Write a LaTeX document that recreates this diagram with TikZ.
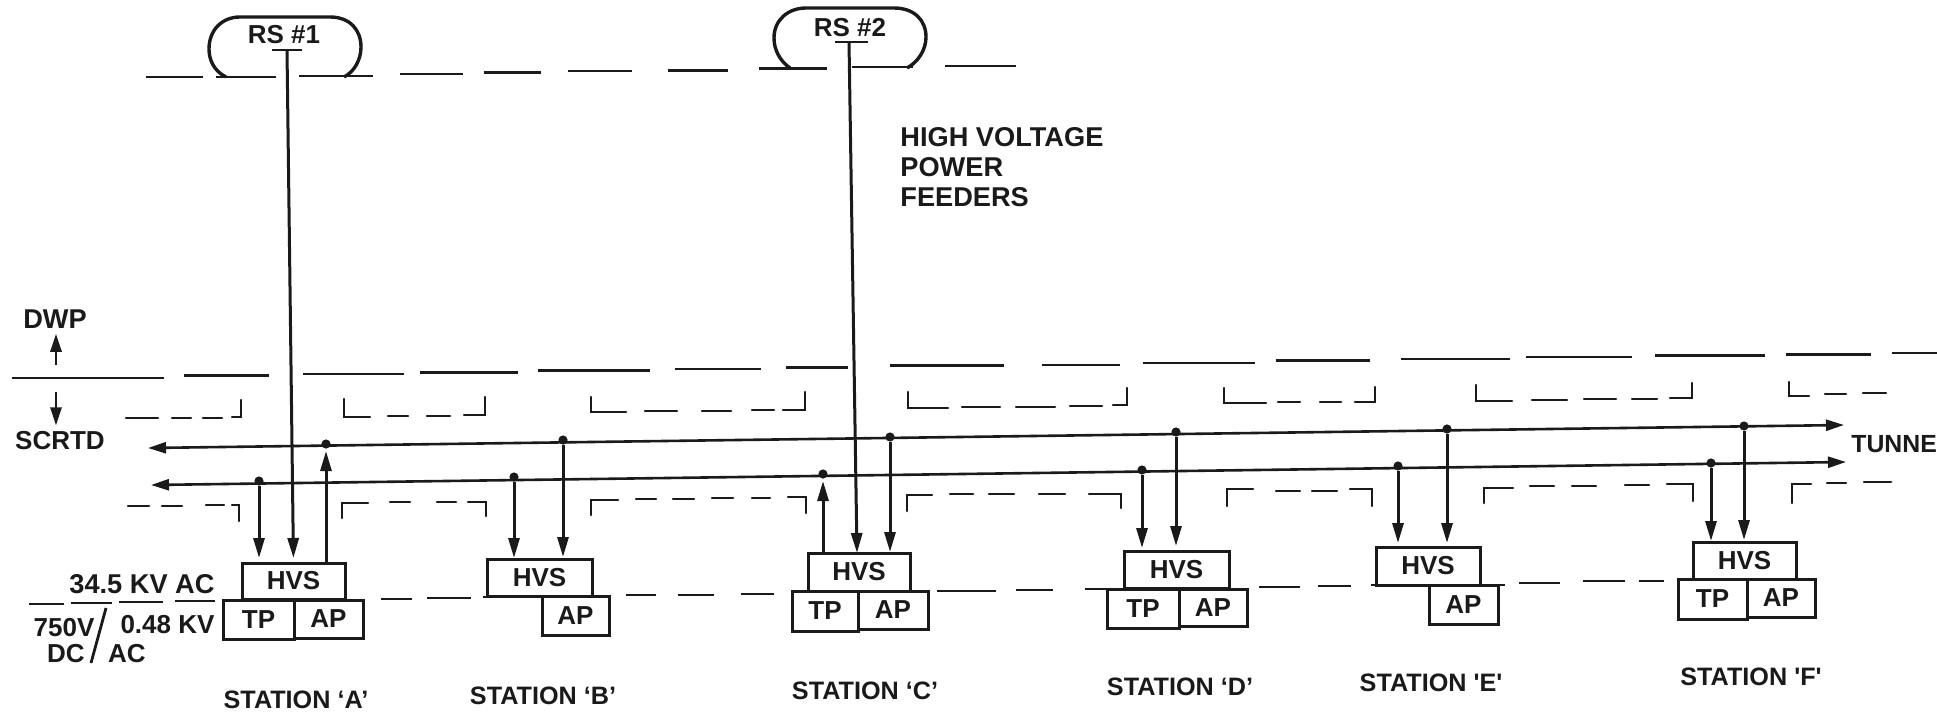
\documentclass[tikz,border=0pt]{standalone}
\usepackage{fontspec}
\setmainfont{Liberation Sans}
\newfontfamily\plainf{Liberation Sans}
\usetikzlibrary{arrows.meta,calc}
\definecolor{ink}{HTML}{1A1A1A}
\tikzset{
  bus/.style={line width=1.4pt,ink},
  dashbit/.style={line width=1.25pt,ink,line cap=round},
  feed/.style={line width=1.5pt,ink,-{Stealth[length=10pt,width=5.5pt,inset=0pt]}},
  tunnel/.style={line width=1.3pt,ink,{Stealth[length=9pt,width=5.5pt,inset=0pt]}-{Stealth[length=9pt,width=5.5pt,inset=0pt]}},
  small arrow/.style={line width=1.4pt,ink,-{Stealth[length=9pt,width=5.5pt,inset=0pt]}},
  boxn/.style={draw=ink,line width=1.5pt,inner sep=0pt,outer sep=0pt,font=\fontsize{13}{13}\bfseries,text=ink},
  dot/.style={circle,fill=ink,inner sep=0pt,minimum size=4.6pt},
  lab/.style={font=\fontsize{13}{15}\bfseries,text=ink,inner sep=0pt},
  stn/.style={font=\fontsize{12.6}{14}\bfseries,text=ink,inner sep=0pt},
  pill/.style={line width=1.7pt,ink}
}
\newcommand{\bx}[6]{%
  \pgfmathsetmacro\bw{(#4-#2)*0.5}%
  \pgfmathsetmacro\bh{(#5-#3)*0.5}%
  \node[boxn,minimum width=\bw pt,minimum height=\bh pt] (#1) at ({(#2+#4)/2},{(#3+#5)/2}) {#6};}
\begin{document}
\begin{tikzpicture}[x=0.5pt,y=-0.5pt]
\useasboundingbox (0,0) rectangle (1937,718);
\clip (0,0) rectangle (1937,718);
% top bus
\foreach \a/\b/\c in {146/203/77,216/276/77,299/373/76,400/463/74,484/541/72.5,568/632/71,668/728/70.5,759/827/68.5,852/913/67,945/1016/66}
  \draw[bus] (\a,\c) -- (\b,\c);
% DWP bus
\foreach \a/\b/\c in {12/164/378,184/269/375.5,303/404/374,420/518/372.5,538/650/370.5,675/761/369,786/848/367.5,890/1004/365.5,1042/1120/365,1143/1255/363,1276/1370/360.5,1401/1510/359,1526/1632/357,1655/1765/355.5,1786/1871/354.5,1892/1937/353}
  \draw[bus] (\a,\c) -- (\b,\c);
% upper structure outline
\draw[dashbit] (232,417) -- (241,417) -- (241,400);
\draw[dashbit] (344,399) -- (344,417) -- (370,417);
\draw[dashbit] (464,415) -- (485,415) -- (485,397);
\draw[dashbit] (591,397) -- (591,412) -- (626,412);
\draw[dashbit] (783,410) -- (805,410) -- (805,392);
\draw[dashbit] (908,392) -- (908,408) -- (948,408);
\draw[dashbit] (1113,405) -- (1127,405) -- (1127,388);
\draw[dashbit] (1224,388) -- (1224,403) -- (1266,403);
\draw[dashbit] (1355,402) -- (1375,402) -- (1375,387);
\draw[dashbit] (1476,385) -- (1476,401) -- (1512,401);
\draw[dashbit] (1670,398) -- (1692,398) -- (1692,383);
\draw[dashbit] (1789,382) -- (1789,396) -- (1809,396);
\foreach \a/\b/\c in {126/158/418,172/191/418,203/222/418,388/408/416,427/450/416,645/677/411,702/731/411,752/774/410,962/1000/407,1016/1055/407,1070/1102/406,1278/1300/402,1320/1341/402,1532/1567/400,1584/1616/399,1632/1657/399,1825/1846/394,1863/1886/393}
  \draw[dashbit] (\a,\c) -- (\b,\c);
% lower structure outline
\draw[dashbit] (232,505) -- (239,505) -- (239,521);
\draw[dashbit] (342,518) -- (342,503) -- (368,503);
\draw[dashbit] (468,502) -- (486,502) -- (486,516);
\draw[dashbit] (591,515) -- (591,500) -- (618,500);
\draw[dashbit] (788,497) -- (806,497) -- (806,513);
\draw[dashbit] (907,511) -- (907,495) -- (932,495);
\draw[dashbit] (1089,494) -- (1121,494) -- (1121,508);
\draw[dashbit] (1227,506) -- (1227,489) -- (1253,489);
\draw[dashbit] (1350,489) -- (1372,489) -- (1372,506);
\draw[dashbit] (1484,503) -- (1484,488) -- (1513,488);
\draw[dashbit] (1667,484) -- (1693,484) -- (1693,501);
\draw[dashbit] (1792,503) -- (1792,484) -- (1811,484);
\foreach \a/\b/\c in {128/149/506,162/182/506,206/224/505,390/410/502,437/456/502,636/656/499,673/694/499,712/733/498,752/770/498,950/973/494,989/1014/494,1039/1065/494,1276/1300/491,1312/1337/491,1530/1554/486,1572/1596/486,1625/1649/485,1827/1846/483,1864/1891/482}
  \draw[dashbit] (\a,\c) -- (\b,\c);
% voltage boundary bus
\foreach \a/\b/\c in {29/64/604,71/112/603,119/163/602,175/215/601,381/412/599,427/471/598,483/490/597,626/656/595,678/714/595,741/774/594,937/996/591,1016/1053/590,1085/1110/589,1259/1300/587,1318/1351/586,1371/1505/585,1519/1560/583,1583/1625/581,1639/1664/581}
  \draw[bus] (\a,\c) -- (\b,\c);
% receiving stations
\draw[pill] (226,77) .. controls (214,71) and (209,60) .. (209,49) .. controls (209,30) and (222,17) .. (240,17) -- (330,17) .. controls (350,17) and (361,30) .. (361,47) .. controls (361,60) and (354,72) .. (344,77);
\draw[pill] (790,68) .. controls (780,61) and (774,50) .. (774,38) .. controls (774,20) and (788,8) .. (806,8) -- (894,8) .. controls (914,8) and (926,20) .. (926,37) .. controls (926,50) and (918,62) .. (907,68);
\node[lab] (rs1) at (284,35) {RS \#1};
\node[lab] (rs2) at (850,28) {RS \#2};
\coordinate (t1l) at (272,50); \coordinate (t1r) at (302,50); \coordinate (t1) at (287,50);
\coordinate (t2l) at (835,42); \coordinate (t2r) at (868,42); \coordinate (t2) at (849,42);
\draw[bus] (t1l) -- (t1r);
\draw[bus] (t2l) -- (t2r);
% boxes
\bx{hvsA}{242}{563}{345}{599}{HVS}
\bx{tpA}{223}{600}{294}{639}{TP}
\bx{apA}{294}{600}{363}{638}{AP}
\bx{hvsB}{487}{559}{592}{596}{HVS}
\bx{apB}{542}{596}{609}{635}{AP}
\bx{hvsC}{808}{553}{910}{591}{HVS}
\bx{tpC}{792}{591}{858}{631}{TP}
\bx{apC}{858}{591}{928}{629}{AP}
\bx{hvsD}{1124}{551}{1229}{588}{HVS}
\bx{tpD}{1107}{589}{1179}{628}{TP}
\bx{apD}{1179}{589}{1247}{626}{AP}
\bx{hvsE}{1376}{547}{1480}{585}{HVS}
\bx{apE}{1429}{585}{1498}{624}{AP}
\bx{hvsF}{1693}{542}{1796}{579}{HVS}
\bx{tpF}{1678}{579}{1747}{619}{TP}
\bx{apF}{1747}{579}{1815}{617}{AP}
% tunnel feeders
\coordinate (uL) at (148,448); \coordinate (uR) at (1844,425);
\coordinate (lL) at (151,485); \coordinate (lR) at (1846,462);
\draw[tunnel] (uL) -- (uR);
\draw[tunnel] (lL) -- (lR);
% tap dots
\node[dot] (dA1) at (259,481) {};
\node[dot] (dA2) at (326,444) {};
\node[dot] (dB1) at (514,477) {};
\node[dot] (dB2) at (563,440) {};
\node[dot] (dC1) at (823,474) {};
\node[dot] (dC2) at (890,437) {};
\node[dot] (dD1) at (1142,470) {};
\node[dot] (dD2) at (1176,432) {};
\node[dot] (dE1) at (1398,466) {};
\node[dot] (dE2) at (1447,429) {};
\node[dot] (dF1) at (1711,463) {};
\node[dot] (dF2) at (1744,426) {};
% connectors
\coordinate (fC) at (857,553);
\draw[feed,shorten >=2.5pt] (t1) -- (hvsA.north);
\draw[feed] (t2) -- (fC);
\draw[feed,shorten >=2.5pt] (dA1) -- (dA1 |- hvsA.north);
\draw[feed,shorten >=1pt] (dA2 |- hvsA.north) -- (dA2);
\draw[feed,shorten >=0.5pt] (dB1) -- (dB1 |- hvsB.north);
\draw[feed,shorten >=1pt] (dB2) -- (dB2 |- hvsB.north);
\draw[feed,shorten >=1pt] (dC1 |- hvsC.north) -- (dC1);
\draw[feed,shorten >=0.5pt] (dC2) -- (dC2 |- hvsC.north);
\draw[feed,shorten >=1.5pt] (dD1) -- (dD1 |- hvsD.north);
\draw[feed,shorten >=2.5pt] (dD2) -- (dD2 |- hvsD.north);
\draw[feed,shorten >=2pt] (dE1) -- (dE1 |- hvsE.north);
\draw[feed,shorten >=2pt] (dE2) -- (dE2 |- hvsE.north);
\draw[feed,shorten >=0.5pt] (dF1) -- (dF1 |- hvsF.north);
\draw[feed,shorten >=1pt] (dF2) -- (dF2 |- hvsF.north);
% labels
\node[lab,font=\fontsize{13.6}{15}\bfseries] (dwp) at (55,319) {DWP};
\node[lab] (scrtd) at (60,441) {SCRTD};
\coordinate (dwpfoot) at (56,365); \coordinate (scrtdtop) at (56,392);
\draw[small arrow,shorten >=2.5pt] (dwpfoot) -- (dwpfoot |- dwp.south);
\draw[small arrow,shorten >=3pt] (scrtdtop) -- (scrtdtop |- scrtd.north);
\node[lab,anchor=west,align=left,font=\fontsize{13.6}{15}\bfseries] (hv) at (900,167) {HIGH VOLTAGE\\POWER\\FEEDERS};
\node[lab,anchor=west,font=\fontsize{12.4}{15}\bfseries] (tun) at (1851,444) {TUNNE};
\node[lab,font=\fontsize{13.6}{15}\bfseries] (kv1) at (142,584) {34.5 KV AC};
\node[lab] (v750) at (64,628) {750V};
\node[lab] (kv2) at (167.5,625) {0.48 KV};
\node[lab] (dc) at (66,654) {DC};
\node[lab] (ac) at (127,654) {AC};
\coordinate (sl1) at (106,608); \coordinate (sl2) at (91,663);
\draw[bus] (sl1) -- (sl2);
\node[stn] (sA) at (296,700) {STATION ‘A’};
\node[stn] (sB) at (543,696) {STATION ‘B’};
\node[stn] (sC) at (865,691) {STATION ‘C’};
\node[stn] (sD) at (1180,687) {STATION ‘D’};
\node[stn] (sE) at (1431,683) {STATION {\plainf\bfseries 'E'}};
\node[stn] (sF) at (1751,677) {STATION {\plainf\bfseries 'F'}};
\end{tikzpicture}
\end{document}
